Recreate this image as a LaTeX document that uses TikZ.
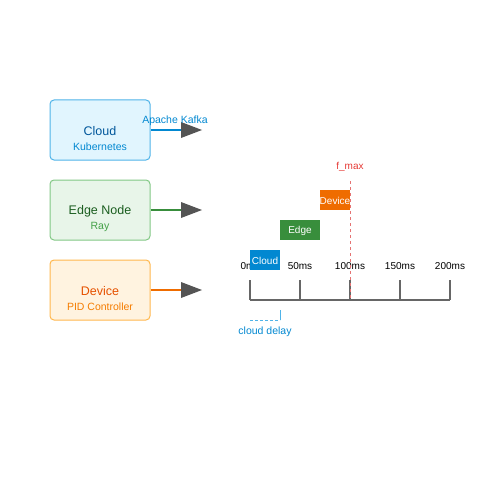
\documentclass[tikz,border=0pt]{standalone}
\usepackage{fontspec}
\setmainfont{Liberation Sans}
\usetikzlibrary{arrows.meta}
\definecolor{cfill}{HTML}{E1F5FE}\definecolor{cdraw}{HTML}{4FB3E8}
\definecolor{ctext}{HTML}{01579B}\definecolor{csub}{HTML}{0288D1}
\definecolor{efill}{HTML}{E8F5E9}\definecolor{edraw}{HTML}{81C784}
\definecolor{etext}{HTML}{1B5E20}\definecolor{esub}{HTML}{43A047}
\definecolor{dfill}{HTML}{FFF3E0}\definecolor{ddraw}{HTML}{FFB74D}
\definecolor{dtext}{HTML}{E65100}\definecolor{dsub}{HTML}{F57C00}
\definecolor{cline}{HTML}{0288D1}\definecolor{eline}{HTML}{388E3C}\definecolor{dline}{HTML}{EF6C00}
\definecolor{axis}{HTML}{666666}\definecolor{fmax}{HTML}{E57373}\definecolor{fmaxt}{HTML}{E53935}
\begin{document}
\begin{tikzpicture}[x=1pt,y=-1pt,
  tier/.style={draw=#1,line width=1pt,rounded corners=4pt,minimum width=100pt,minimum height=60pt,inner sep=0pt},
  conn/.style={line width=1.5pt,draw=#1},
  head/.style={fill=black!67,draw=none},
  bar/.style={fill=#1,text=white,inner sep=0pt,font=\fontsize{10}{12}\selectfont},
  tick/.style={font=\fontsize{10}{12}\selectfont,text=black},
  ax/.style={draw=axis,line width=1.2pt}]
\useasboundingbox (0,0) rectangle (500,500);
% tier boxes
\node[tier=cdraw,fill=cfill] (cloud) at (100,130) {};
\node[text=ctext,font=\fontsize{12.5}{14}\selectfont] (cloudT) at (100,131.5) {Cloud};
\node[text=csub,font=\fontsize{10.5}{12}\selectfont] (cloudS) at (100,146.5) {Kubernetes};
\node[tier=edraw,fill=efill] (edge) at (100,210) {};
\node[text=etext,font=\fontsize{12.5}{14}\selectfont] (edgeT) at (100,211.5) {Edge Node};
\node[text=esub,font=\fontsize{10.5}{12}\selectfont] (edgeS) at (100,226.5) {Ray};
\node[tier=ddraw,fill=dfill] (dev) at (100,290) {};
\node[text=dtext,font=\fontsize{12.5}{14}\selectfont] (devT) at (100,291.5) {Device};
\node[text=dsub,font=\fontsize{10.5}{12}\selectfont] (devS) at (100,306.5) {PID Controller};
% connectors
\coordinate (c1) at (182,130); \coordinate (c1t) at (202,130);
\coordinate (c2) at (182,210); \coordinate (c2t) at (202,210);
\coordinate (c3) at (182,290); \coordinate (c3t) at (202,290);
\draw[conn=cline] (cloud.east) -- (c1);
\draw[conn=eline] (edge.east) -- (c2);
\draw[conn=dline] (dev.east) -- (c3);
\fill[head] (181,122) -- (c1t) -- (181,138) -- cycle;
\fill[head] (181,202) -- (c2t) -- (181,218) -- cycle;
\fill[head] (181,282) -- (c3t) -- (181,298) -- cycle;
\node[text=csub,font=\fontsize{10.5}{12}\selectfont] (kafka) at (175,121) {Apache Kafka};
% timeline axis
\coordinate (a0) at (250,300); \coordinate (a4) at (450,300);
\draw[ax] (a0) -- (a4);
\foreach \x in {250,300,350,400,450} \draw[ax] (\x,280) -- (\x,300);
\node[tick] (t0) at (250,266.5) {0ms};
\node[tick] (t1) at (300,266.5) {50ms};
\node[tick] (t2) at (350,266.5) {100ms};
\node[tick] (t3) at (400,266.5) {150ms};
\node[tick] (t4) at (450,266.5) {200ms};
% bars
\node[bar=cline,minimum width=30pt,minimum height=20pt] (bc) at (265,260) {};
\node[text=white,font=\fontsize{10}{12}\selectfont] (bcT) at (265,261) {Cloud};
\node[bar=eline,minimum width=40pt,minimum height=20pt] (be) at (300,230) {};
\node[text=white,font=\fontsize{10}{12}\selectfont] (beT) at (300,231) {Edge};
\node[bar=dline,minimum width=30pt,minimum height=20pt] (bd) at (335,200) {};
\node[text=white,font=\fontsize{10}{12}\selectfont] (bdT) at (335,201) {Device};
% f_max
\coordinate (f0) at (350,181); \coordinate (f1) at (350,300);
\draw[draw=fmax,line width=1pt,dash pattern=on 3pt off 3pt] (f0) -- (f1);
\node[text=fmaxt,font=\fontsize{10}{12}\selectfont] (fl) at (350,166.5) {f\_max};
% cloud delay
\coordinate (d0) at (250,320); \coordinate (d1) at (280,320); \coordinate (d2) at (280,310);
\draw[draw=cdraw,line width=1pt,dash pattern=on 3pt off 2pt] (d0) -- (d1);
\draw[draw=cdraw,line width=1pt] (d1) -- (d2);
\node[text=csub,font=\fontsize{10.5}{12}\selectfont] (dl) at (265,331.5) {cloud delay};
\end{tikzpicture}
\end{document}
